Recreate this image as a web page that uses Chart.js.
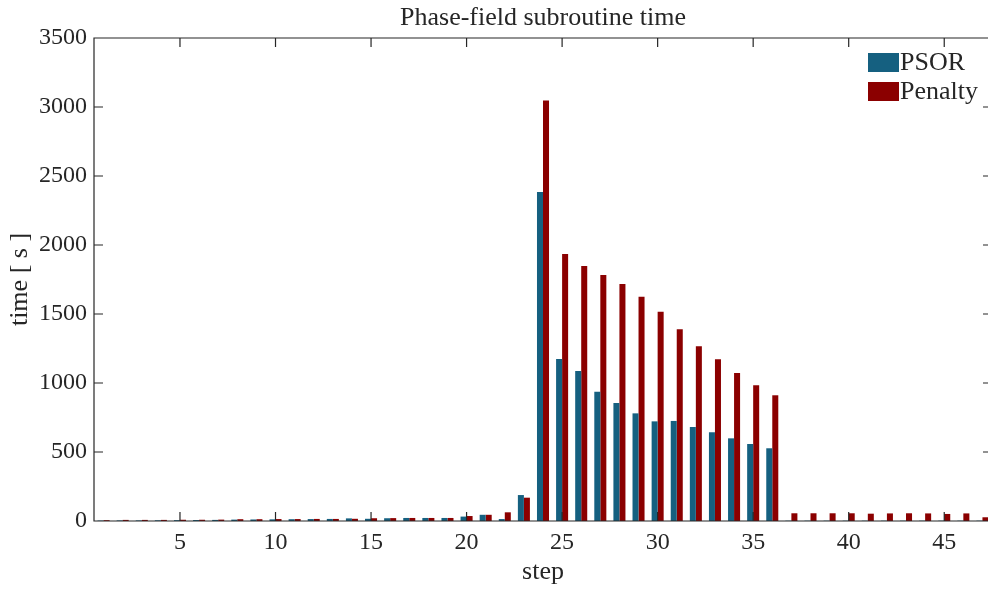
<!DOCTYPE html>
<html>
<head>
<meta charset="utf-8">
<script src="https://cdn.jsdelivr.net/npm/chart.js@4"></script>
<style>
  html, body { margin: 0; padding: 0; overflow: hidden; background: #fff; }
  #wrap { width: 1000px; height: 591px; }
</style>
</head>
<body>
<div id="wrap"><canvas id="phaseTime" width="1000" height="591"></canvas></div>
<script>
var steps = [];
for (var s = 1; s <= 47; s++) steps.push(s);

var psor = [3, 4, 4, 5, 6, 7, 8, 10, 11, 12, 13, 14, 15, 19, 16, 20,
  22, 22, 22, 32, 45, 14, 188, 2384, 1174, 1087, 937, 855, 780, 722,
  725, 681, 643, 599, 558, 527, 2, 2, 2, 2, 2, 2, 2, 2, 2, 2, 2];
var penalty = [6, 8, 8, 8, 9, 9, 10, 13, 13, 14, 14, 15, 15, 16, 20, 21,
  22, 22, 22, 36, 45, 63, 169, 3048, 1935, 1848, 1783, 1717, 1625, 1517,
  1389, 1266, 1172, 1072, 983, 911, 56, 56, 56, 56, 53, 55, 56, 55, 51, 55, 27];

var yTicks = [0, 500, 1000, 1500, 2000, 2500, 3000, 3500];
var xTicks = [5, 10, 15, 20, 25, 30, 35, 40, 45];

var colors = {
  psor: 'rgb(21, 96, 128)',
  penalty: 'rgb(139, 0, 0)',
  axis: '#262626'
};
var serif = '"Liberation Serif", "Times New Roman", serif';

// frame, inward ticks and legend like the matlab figure
var framePlugin = {
  id: 'frame',
  afterDatasetsDraw: function (chart) {
    var ctx = chart.ctx;
    var a = chart.chartArea;
    var xs = chart.scales.x, ys = chart.scales.y;
    ctx.save();
    ctx.strokeStyle = colors.axis;
    ctx.lineWidth = 1.2;
    ctx.beginPath();
    ctx.rect(a.left, a.top, a.right - a.left, a.bottom - a.top);
    yTicks.forEach(function (v) {
      var y = ys.getPixelForValue(v);
      ctx.moveTo(a.left, y); ctx.lineTo(a.left + 9, y);
      ctx.moveTo(a.right, y); ctx.lineTo(a.right - 9, y);
    });
    xTicks.forEach(function (v) {
      var x = xs.getPixelForValue(steps.indexOf(v));
      ctx.moveTo(x, a.bottom); ctx.lineTo(x, a.bottom - 9);
      ctx.moveTo(x, a.top); ctx.lineTo(x, a.top + 9);
    });
    ctx.stroke();

    // legend
    var items = [['PSOR', colors.psor], ['Penalty', colors.penalty]];
    ctx.font = '26px ' + serif;
    ctx.textBaseline = 'middle';
    ctx.textAlign = 'left';
    items.forEach(function (it, i) {
      var top = 53 + i * 29;
      ctx.fillStyle = it[1];
      ctx.fillRect(868, top, 31, 19);
      ctx.fillStyle = colors.axis;
      ctx.fillText(it[0], 900, top + 10);
    });
    ctx.restore();
  }
};

var ctxPhase = document.getElementById('phaseTime').getContext('2d');
var chartPhase = new Chart(ctxPhase, {
  type: 'bar',
  data: {
    labels: steps,
    datasets: [{
      label: 'PSOR',
      backgroundColor: colors.psor,
      data: psor,
      categoryPercentage: 0.63,
      barPercentage: 1
    }, {
      label: 'Penalty',
      backgroundColor: colors.penalty,
      data: penalty,
      categoryPercentage: 0.63,
      barPercentage: 1
    }]
  },
  options: {
    responsive: false,
    animation: false,
    layout: { padding: { left: 0, right: 8, top: 0, bottom: 0 } },
    plugins: {
      legend: { display: false },
      tooltip: { enabled: false },
      title: {
        display: true,
        fullSize: false,
        text: 'Phase-field subroutine time',
        color: colors.axis,
        font: { family: serif, size: 26, weight: 'normal', lineHeight: 1.2 },
        padding: { top: 3, bottom: 3.8 }
      }
    },
    scales: {
      x: {
        grid: { display: false, drawTicks: false },
        border: { display: false },
        ticks: {
          autoSkip: false,
          maxRotation: 0,
          padding: 7,
          color: colors.axis,
          font: { family: serif, size: 24 },
          callback: function (val, i) {
            return xTicks.indexOf(steps[i]) >= 0 ? String(steps[i]) : '';
          }
        },
        title: {
          display: true,
          text: 'step',
          color: colors.axis,
          font: { family: serif, size: 26, lineHeight: 1.2 },
          padding: 3
        },
        afterFit: function (scale) { scale.height = 70; }
      },
      y: {
        min: 0,
        max: 3500,
        grid: { display: false, drawTicks: false },
        border: { display: false },
        ticks: {
          stepSize: 500,
          padding: 7,
          color: colors.axis,
          font: { family: serif, size: 24 },
          callback: function (val) { return String(val); }
        },
        title: {
          display: true,
          text: 'time [ s ]',
          color: colors.axis,
          font: { family: serif, size: 26, lineHeight: 1.2 },
          padding: 5
        },
        afterFit: function (scale) { scale.width = 94; }
      }
    }
  },
  plugins: [framePlugin]
});
</script>
</body>
</html>
